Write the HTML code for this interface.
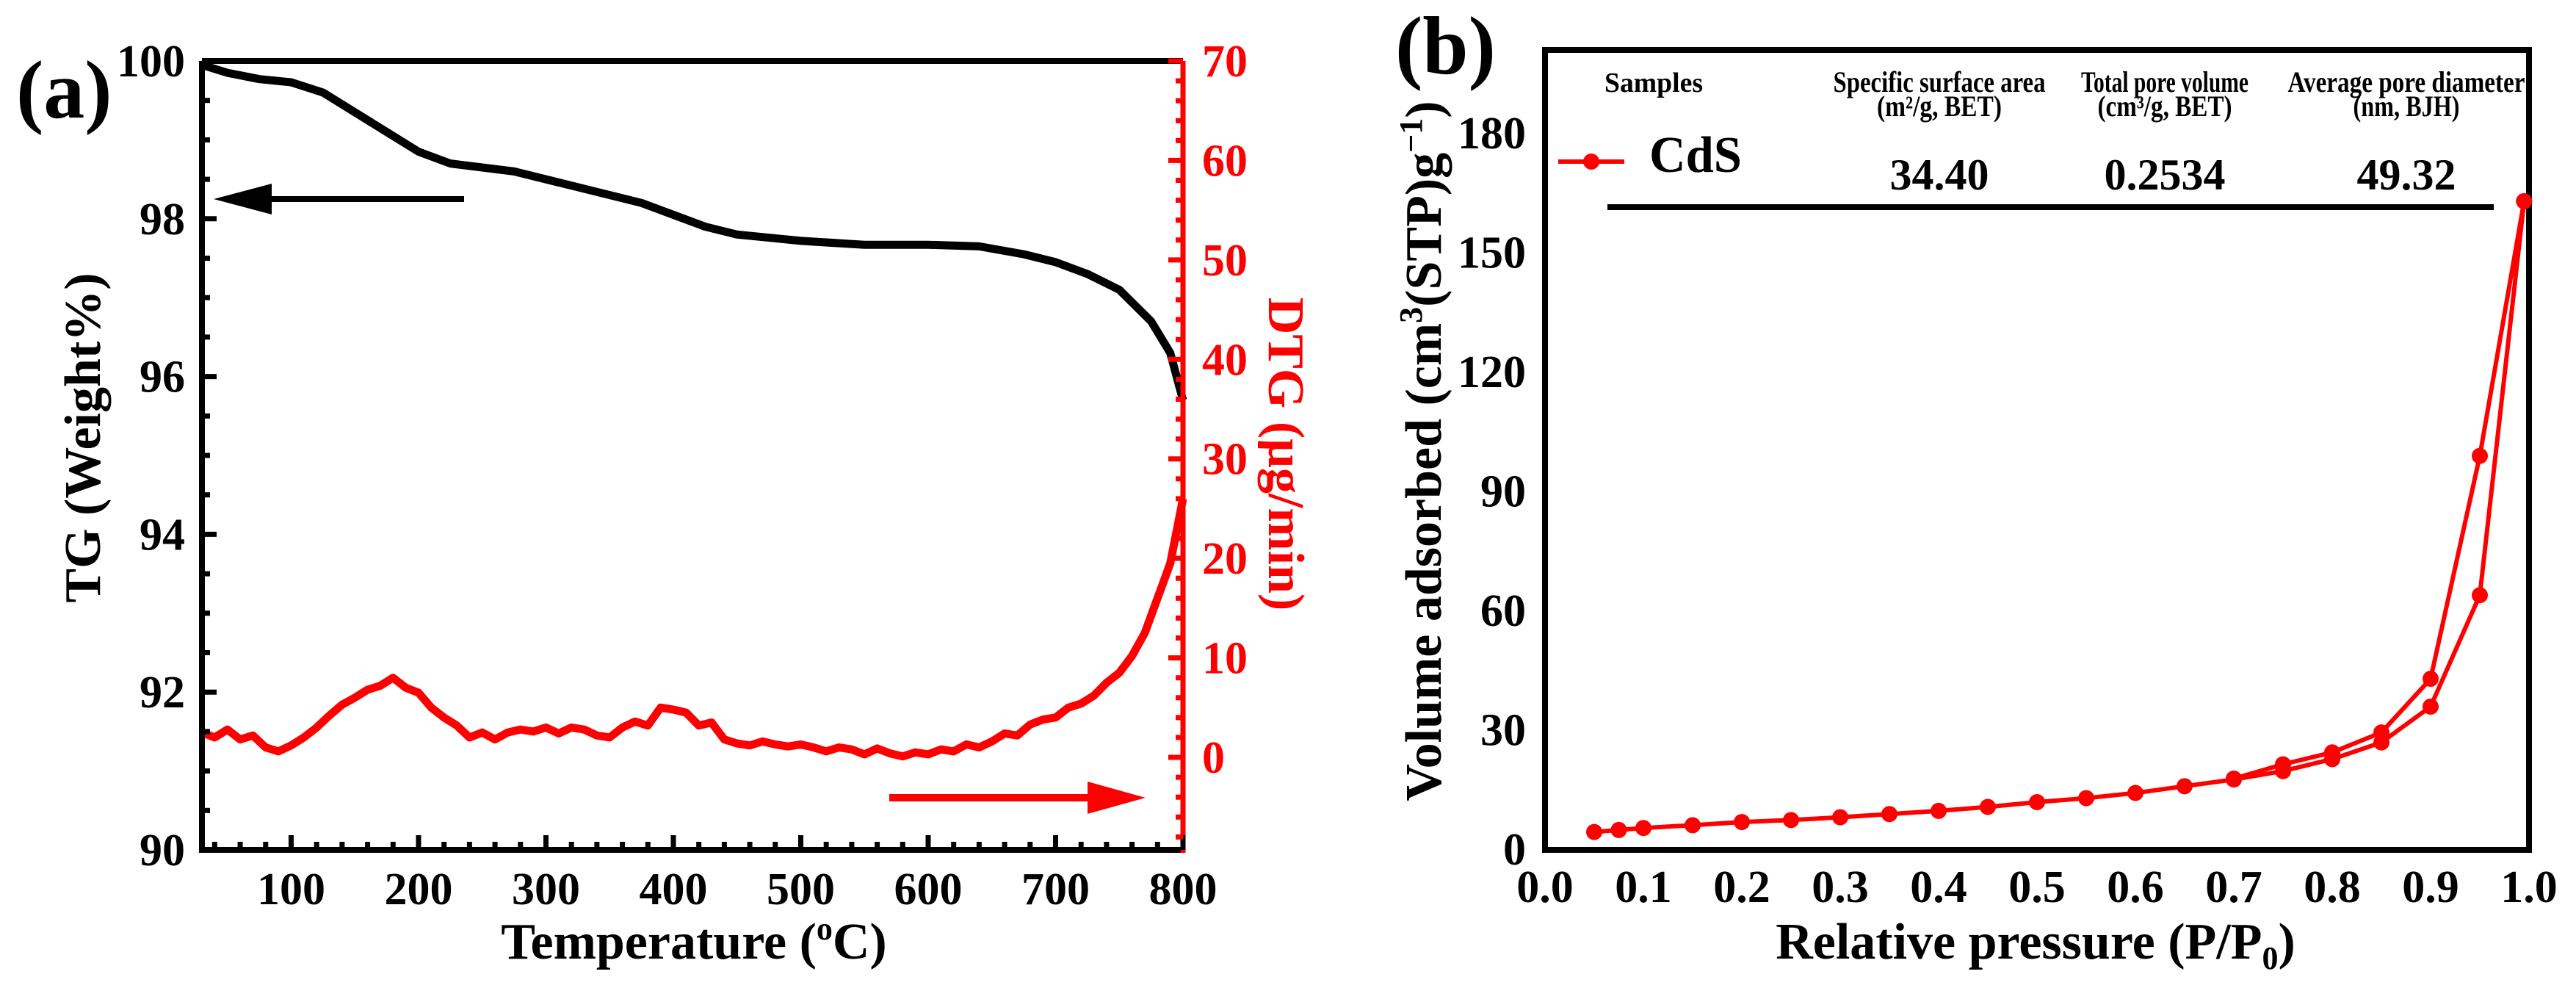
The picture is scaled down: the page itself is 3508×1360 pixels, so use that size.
<!DOCTYPE html>
<html><head><meta charset="utf-8"><style>
html,body{margin:0;padding:0;background:#fff;}
svg{display:block;}
text{font-family:"Liberation Serif",serif;font-weight:bold;}
</style></head><body>
<svg id="fig" width="3508" height="1360" viewBox="0 0 3508 1360" xmlns="http://www.w3.org/2000/svg">
<g id="pa"></g>
<g id="pb"></g>
</svg>
<script>
// ---- Panel (a) data ----
const tgTemps = [30,50,75,100,125,150,175,200,225,250,275,300,325,350,375,400,425,450,475,500,550,600,640,675,700,725,750,775,790,800];
const tgValues = [99.95,99.85,99.77,99.73,99.6,99.35,99.1,98.85,98.7,98.65,98.6,98.5,98.4,98.3,98.2,98.05,97.9,97.8,97.76,97.72,97.67,97.67,97.65,97.55,97.45,97.3,97.1,96.7,96.3,95.7];
const dtgTemps = [30,40,50,60,70,80,90,100,110,120,130,140,150,160,170,180,190,200,210,220,230,240,250,260,270,280,290,300,310,320,330,340,350,360,370,380,390,400,410,420,430,440,450,460,470,480,490,500,510,520,530,540,550,560,570,580,590,600,610,620,630,640,650,660,670,680,690,700,710,720,730,740,750,760,770,780,790,800];
const dtgValues = [2.5,2.0,2.8,1.8,2.2,1.0,0.6,1.2,2.0,3.0,4.2,5.3,6.0,6.8,7.2,8.0,7.0,6.5,5.0,4.0,3.2,2.0,2.5,1.8,2.5,2.8,2.6,3.0,2.4,3.0,2.8,2.2,2.0,3.0,3.6,3.2,5.0,4.8,4.5,3.2,3.5,1.8,1.4,1.2,1.6,1.3,1.1,1.3,1.0,0.6,1.0,0.8,0.3,0.9,0.4,0.1,0.5,0.3,0.8,0.6,1.3,1.0,1.6,2.4,2.2,3.3,3.8,4.0,5.0,5.4,6.2,7.5,8.5,10.2,12.5,16,19.5,26];
const tempTicks = [100,200,300,400,500,600,700,800];
const tgTicks = [90,92,94,96,98,100];
const dtgTicks = [0,10,20,30,40,50,60,70];
// ---- Panel (b) data ----
const adsP = [0.05,0.075,0.1,0.15,0.2,0.25,0.3,0.35,0.4,0.45,0.5,0.55,0.6,0.65,0.7,0.75,0.8,0.85,0.9,0.95,0.995];
const adsV = [4.5,5,5.5,6.2,7,7.5,8.2,9,9.8,10.8,12,13,14.3,16,17.7,19.8,22.8,27,36,64,163];
const desP = [0.995,0.95,0.9,0.85,0.8,0.75,0.7];
const desV = [163,99,43,29.5,24.5,21.5,17.9];
const pTicks = [0.0,0.1,0.2,0.3,0.4,0.5,0.6,0.7,0.8,0.9,1.0];
const pTickLabels = ["0.0","0.1","0.2","0.3","0.4","0.5","0.6","0.7","0.8","0.9","1.0"];
const vTicks = [0,30,60,90,120,150,180];
const tableHeads = [["Specific surface area","(m²/g, BET)"],["Total pore volume","(cm³/g, BET)"],["Average pore diameter","(nm, BJH)"]];
const tableVals = ["34.40","0.2534","49.32"];

const NS="http://www.w3.org/2000/svg";
function mk(parent,tag,attrs,txt){const e=document.createElementNS(NS,tag);for(const k in attrs)e.setAttribute(k,attrs[k]);if(txt!==undefined)e.textContent=txt;parent.appendChild(e);return e;}

// ===== Panel A =====
const A=document.getElementById('pa');
const aL=275,aR=1611,aT=83,aB=1157;
const ax=t=>aL+(t-30)/(800-30)*(aR-aL);
const ay=v=>aB-(v-90)/(100-90)*(aB-aT);
const ay2=v=>aB-(v-(-9.3))/(70-(-9.3))*(aB-aT);

let e;
e=mk(A,'polyline',{points:dtgTemps.map((t,i)=>ax(t)+','+ay2(dtgValues[i])).join(' '),fill:'none',stroke:'#ff0000','stroke-width':11,'stroke-linejoin':'round'});


e=mk(A,'polyline',{points:tgTemps.map((t,i)=>ax(t)+','+ay(tgValues[i])).join(' '),fill:'none',stroke:'#000','stroke-width':11,'stroke-linejoin':'round'});



e=mk(A,'path',{d:`M${aL},${aT} H${aR} M${aL},${aT} V${aB} H${aR}`,stroke:'#000','stroke-width':8,fill:'none'});


e=mk(A,'line',{x1:aR,y1:aT,x2:aR,y2:aB+4,stroke:'#ff0000','stroke-width':7});


for(let t=40;t<=800;t+=20){const maj=t%100===0;mk(A,'line',{x1:ax(t),x2:ax(t),y1:aB,y2:aB-(maj?20:11),stroke:'#000','stroke-width':7});}
tempTicks.forEach(t=>{e=mk(A,'text',{x:ax(t),y:1231,'font-size':62,'text-anchor':'middle'},t);

});
for(let v=90;v<=100.001;v+=0.5){const maj=Math.abs(v-Math.round(v/2)*2)<0.01;mk(A,'line',{x1:aL,x2:aL+(maj?20:11),y1:ay(v),y2:ay(v),stroke:'#000','stroke-width':7});}
tgTicks.forEach(v=>{e=mk(A,'text',{x:252,y:ay(v)+21,'font-size':62,'text-anchor':'end'},v);

});
for(let v=-8;v<=70;v+=2){const maj=v%10===0;mk(A,'line',{x1:aR,x2:aR-(maj?20:10),y1:ay2(v),y2:ay2(v),stroke:'#ff0000','stroke-width':7});}
dtgTicks.forEach(v=>{e=mk(A,'text',{x:1637,y:ay2(v)+21,'font-size':62,fill:'#ff0000'},v);

});
e=mk(A,'text',{x:945,y:1305,'font-size':70,'text-anchor':'middle'},'');
e.innerHTML='Temperature (<tspan font-size="44" dy="-26">o</tspan><tspan dy="26">C)</tspan>';


e=mk(A,'text',{x:0,y:0,'font-size':70,'text-anchor':'middle',transform:'translate(136,596) rotate(-90)'},'TG (Weight%)');


e=mk(A,'text',{x:0,y:0,'font-size':70,'text-anchor':'middle',fill:'#ff0000',transform:'translate(1728,618) rotate(90)'},'DTG (μg/min)');


e=mk(A,'text',{x:22,y:160,'font-size':112},'(a)');


e=mk(A,'g',{});


mk(e,'line',{x1:632,y1:271,x2:340,y2:271,stroke:'#000','stroke-width':8});
mk(e,'polygon',{points:'291,271 370,250 370,292',fill:'#000'});
e=mk(A,'g',{});


mk(e,'line',{x1:1211,y1:1086,x2:1500,y2:1086,stroke:'#ff0000','stroke-width':10});
mk(e,'polygon',{points:'1560,1086 1481,1064 1481,1108',fill:'#ff0000'});

// ===== Panel B =====
const B=document.getElementById('pb');
const bL=2104,bR=3444,bT=68,bB=1157;
const bx=p=>bL+p*(bR-bL);
const by=v=>bB-v/201*(bB-bT);
e=mk(B,'rect',{x:bL,y:bT,width:bR-bL,height:bB-bT,fill:'none',stroke:'#000','stroke-width':8});


pTicks.forEach((p,i)=>{e=mk(B,'text',{x:bx(p),y:1228,'font-size':62,'text-anchor':'middle'},pTickLabels[i]);

});
vTicks.forEach(v=>{e=mk(B,'text',{x:2078,y:by(v)+20,'font-size':62,'text-anchor':'end'},v);

});
e=mk(B,'text',{x:2772,y:1305,'font-size':70,'text-anchor':'middle'},'');
e.innerHTML='Relative pressure (P/P<tspan font-size="44" dy="14">0</tspan><tspan dy="-14">)</tspan>';


e=mk(B,'text',{x:0,y:0,'font-size':70,'text-anchor':'middle',transform:'translate(1962,614) rotate(-90)'},'');
e.innerHTML='Volume adsorbed (cm<tspan font-size="44" dy="-26">3</tspan><tspan dy="26">(STP)g</tspan><tspan font-size="44" dy="-26">−1</tspan><tspan dy="26">)</tspan>';


e=mk(B,'text',{x:1900,y:100,'font-size':112},'(b)');


e=mk(B,'polyline',{points:adsP.map((p,i)=>bx(p)+','+by(adsV[i])).join(' '),fill:'none',stroke:'#ff0000','stroke-width':6});


e=mk(B,'polyline',{points:desP.map((p,i)=>bx(p)+','+by(desV[i])).join(' '),fill:'none',stroke:'#ff0000','stroke-width':6});


adsP.forEach((p,i)=>{e=mk(B,'circle',{cx:bx(p),cy:by(adsV[i]),r:11,fill:'#ff0000'});

});
desP.forEach((p,i)=>{e=mk(B,'circle',{cx:bx(p),cy:by(desV[i]),r:11,fill:'#ff0000'});

});
e=mk(B,'g',{});


mk(e,'line',{x1:2122,y1:220,x2:2212,y2:220,stroke:'#ff0000','stroke-width':6});
mk(e,'circle',{cx:2167,cy:220,r:11,fill:'#ff0000'});
mk(e,'text',{x:2246,y:234,'font-size':70,textLength:126,lengthAdjust:'spacingAndGlyphs'},'CdS');
e=mk(B,'text',{x:2252,y:125,'font-size':38,'text-anchor':'middle',textLength:134,lengthAdjust:'spacingAndGlyphs'},'Samples');


const colX=[2641,2948,3277];
const h1W=[289,228,323], h2W=[170,183,145];
tableHeads.forEach((h,i)=>{
e=mk(B,'text',{x:colX[i],y:125,'font-size':40,'text-anchor':'middle',textLength:h1W[i],lengthAdjust:'spacingAndGlyphs'},h[0]);


e=mk(B,'text',{x:colX[i],y:158,'font-size':40,'text-anchor':'middle',textLength:h2W[i],lengthAdjust:'spacingAndGlyphs'},h[1]);


e=mk(B,'text',{x:colX[i],y:258,'font-size':60,'text-anchor':'middle'},tableVals[i]);


});
e=mk(B,'line',{x1:2189,y1:282,x2:3396,y2:282,stroke:'#000','stroke-width':8});


</script>
</body></html>
